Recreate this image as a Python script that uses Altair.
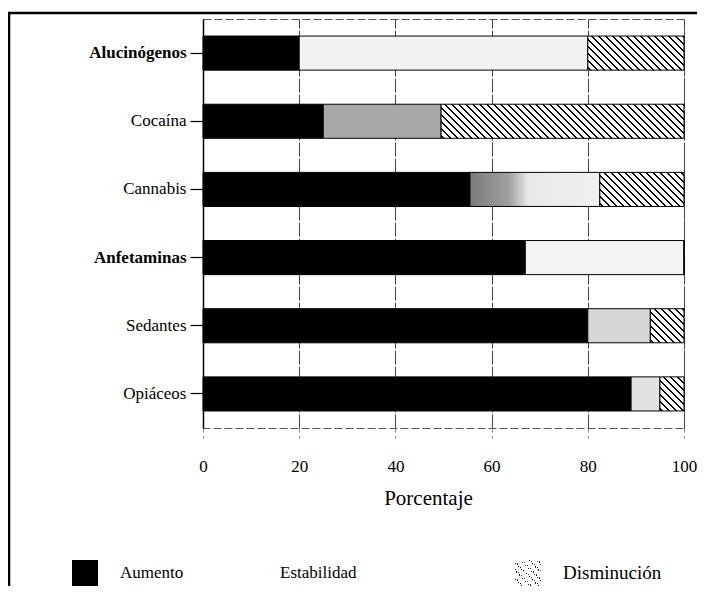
import altair as alt
import pandas as pd

drogas = ["Alucinógenos", "Cocaína", "Cannabis", "Anfetaminas", "Sedantes", "Opiáceos"]
series = ["Aumento", "Estabilidad", "Disminución"]
aumento = [20, 25, 55.5, 67, 80, 89]
estabilidad = [60, 24.5, 27, 33, 13, 6]
disminucion = [20, 50.5, 17.5, 0, 7, 5]
x_ticks = [0, 20, 40, 60, 80, 100]

rows = []
for i, d in enumerate(drogas):
    for j, (s, vals) in enumerate(zip(series, [aumento, estabilidad, disminucion])):
        rows.append({"droga": d, "serie": s, "serie_b": s, "valor": vals[i], "orden": j})
df = pd.DataFrame(rows)

PLOT_W = 481
PLOT_H = 409
BAND_H = PLOT_H / 6 * 0.5
FONT = "Liberation Serif"


def hatch(w, h, period=7.0, line=1.8):
    total = w + h
    stops = [{"offset": 0, "color": "#ffffff"}]
    k = 0
    while True:
        a = (k * period + 2.0) / total
        b = (k * period + 2.0 + line) / total
        if a >= 1:
            break
        b = min(b, 1.0)
        stops += [
            {"offset": round(a, 5), "color": "#ffffff"},
            {"offset": round(a, 5), "color": "#000000"},
            {"offset": round(b, 5), "color": "#000000"},
            {"offset": round(b, 5), "color": "#ffffff"},
        ]
        k += 1
    stops.append({"offset": 1, "color": "#ffffff"})
    d2 = w * w + h * h
    return {
        "gradient": "linear",
        "x1": 0, "y1": 1,
        "x2": round((w + h) * w / d2, 5),
        "y2": round(1 - (w + h) * h / d2, 5),
        "stops": stops,
    }


def hatch_path(period=0.62, t=0.2):
    # diagonal "\" strokes inside the [-1, 1] square, for a legend symbol
    def seg(c):
        x0 = max(-1.0, c - 1.0)
        x1 = min(1.0, c + 1.0)
        return (x0, x0 - c), (x1, x1 - c)
    parts = []
    c = -1.5
    while c + t < 2.0:
        (a0, a1), (b0, b1) = seg(c), seg(c + t)
        parts.append(
            f"M{a0[0]:.3f},{a0[1]:.3f}L{a1[0]:.3f},{a1[1]:.3f}"
            f"L{b1[0]:.3f},{b1[1]:.3f}L{b0[0]:.3f},{b0[1]:.3f}Z"
        )
        c += period
    return "".join(parts)


conds = []
for d, v in zip(drogas, disminucion):
    if v > 0:
        conds.append({
            "test": f"datum.droga === '{d}' && datum.serie === 'Disminución'",
            "value": hatch(v / 100 * PLOT_W, BAND_H),
        })
est_fill = {
    "Alucinógenos": "#f2f2f2",
    "Anfetaminas": "#f3f3f3",
    "Cocaína": "#a9a9a9",
    "Sedantes": "#d6d6d6",
    "Opiáceos": "#e2e2e2",
    "Cannabis": {
        "gradient": "linear", "x1": 0, "y1": 0, "x2": 1, "y2": 0,
        "stops": [
            {"offset": 0, "color": "#7a7a7a"},
            {"offset": 0.3, "color": "#a0a0a0"},
            {"offset": 0.45, "color": "#e8e8e8"},
            {"offset": 1, "color": "#f1f1f1"},
        ],
    },
}
for d, c in est_fill.items():
    conds.append({"test": f"datum.droga === '{d}' && datum.serie === 'Estabilidad'", "value": c})

legend_common = dict(
    title=None,
    orient="none",
    legendY=541,
    direction="horizontal",
    padding=0,
    symbolSize=676,
    symbolStrokeWidth=0,
    symbolOpacity=1,
    labelFont=FONT,
    labelColor="#000000",
    labelOffset=22,
    labelLimit=400,
)

legend_fill = alt.Legend(
    legendX=-131, columns=2, columnPadding=48,
    values=["Aumento", "Estabilidad"],
    symbolType="square", labelFontSize=17,
    **legend_common
)
legend_stroke = alt.Legend(
    legendX=312, columns=1,
    values=["Disminución"],
    symbolType=hatch_path(),
    symbolFillColor="#000000",
    labelFontSize=19,
    **legend_common
)

bars = alt.Chart(df).mark_bar(strokeWidth=1).encode(
    x=alt.X(
        "valor:Q",
        stack="zero",
        scale=alt.Scale(domain=[0, 100], nice=False),
        axis=alt.Axis(
            values=x_ticks,
            title="Porcentaje",
            titleFont=FONT,
            titleFontSize=21,
            titleFontWeight="normal",
            titleColor="#000000",
            titlePadding=13,
            titleX=225,
            labelFont=FONT,
            labelFontSize=17,
            labelColor="#000000",
            labelPadding=20,
            labelFlush=False,
            tickSize=10,
            tickColor="#888888",
            tickDash=[4, 3],
            domain=False,
            grid=True,
            gridColor="#444444",
            gridDash=[14, 2],
            gridWidth=1,
        ),
    ),
    y=alt.Y(
        "droga:N",
        sort=drogas,
        scale=alt.Scale(paddingInner=0.5, paddingOuter=0.25),
        axis=alt.Axis(
            title=None,
            labelFont=FONT,
            labelFontSize=17,
            labelColor="#000000",
            labelPadding=4,
            labelFontWeight={
                "condition": {
                    "test": "datum.value === 'Alucinógenos' || datum.value === 'Anfetaminas'",
                    "value": "bold",
                },
                "value": "normal",
            },
            tickSize=13,
            tickColor="#000000",
            tickWidth=1.2,
            domainColor="#000000",
            domainWidth=1.5,
            grid=False,
        ),
    ),
    fill=alt.Fill(
        "serie:N",
        scale=alt.Scale(domain=series, range=["#000000", "#ffffff", "#ffffff"]),
        legend=legend_fill,
        condition=conds,
    ),
    stroke=alt.Stroke(
        "serie_b:N",
        scale=alt.Scale(domain=["Disminución", "Aumento", "Estabilidad"],
                        range=["#000000", "#000000", "#000000"]),
        legend=legend_stroke,
    ),
    order=alt.Order("orden:Q"),
)

frame_df = pd.DataFrame({"k": [0]})
frame_left = alt.Chart(frame_df).mark_rule(color="#000000", strokeWidth=2.5).encode(
    x=alt.value(-194), y=alt.value(-6), y2=alt.value(700)
)
frame_top = alt.Chart(frame_df).mark_rule(color="#000000", strokeWidth=2.5).encode(
    x=alt.value(-195), x2=alt.value(700), y=alt.value(-6)
)

chart = alt.layer(bars, frame_left, frame_top).properties(
    width=PLOT_W,
    height=PLOT_H,
    autosize=alt.AutoSizeParams(type="none"),
    padding={"left": 195, "top": 11, "right": 13, "bottom": 158},
    background="#ffffff",
).configure_view(stroke="#555555", strokeDash=[8, 3], strokeWidth=1)

chart.save("out.html", embed_options={"renderer": "svg", "actions": False})
